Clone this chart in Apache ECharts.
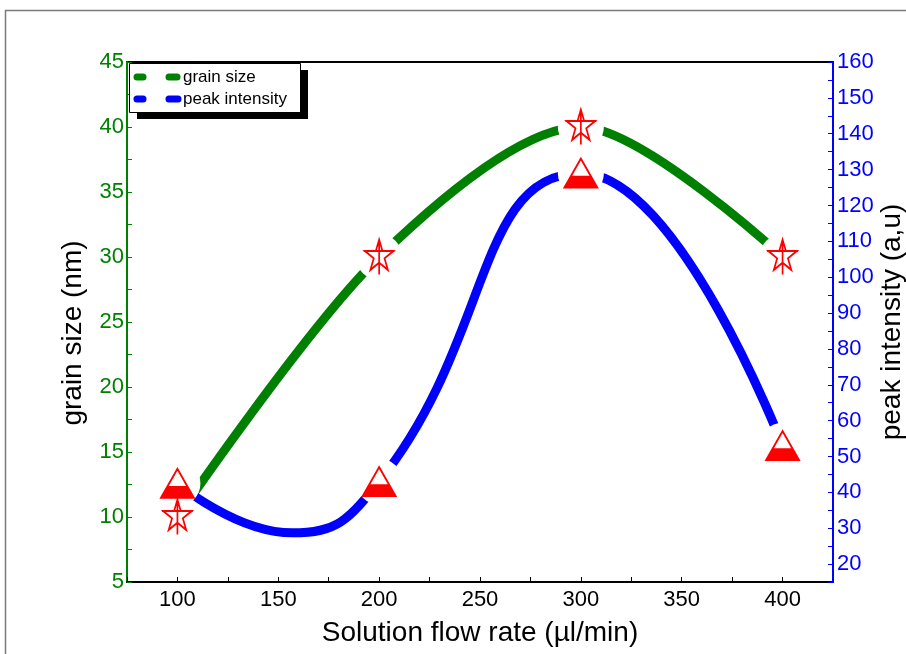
<!DOCTYPE html>
<html>
<head>
<meta charset="utf-8">
<script src="https://cdn.jsdelivr.net/npm/echarts/dist/echarts.min.js"></script>
<style>
  html, body { margin: 0; padding: 0; background: #fff; }
  #chart { width: 906px; height: 654px; }
</style>
</head>
<body>
<div id="chart"></div>
<script>
const flowRate = [100, 200, 300, 400];
const grainSize = [10, 30, 40, 30];
const peakIntensity = [42.5, 43, 129, 53];

// the drawn spline of peak intensity (it dips between 100 and 200)
const peakCurveRate = [100, 157, 200, 300, 400];
const peakCurveValue = [42.5, 28.7, 43, 129, 53];

const FONT = '"Liberation Sans", Arial, sans-serif';
const GREEN = '#008000';
const BLUE = '#0000ff';
const RED = '#ff0000';

// symbol outlines in a 100x100 box
const starPts = [[50, 0], [60.76, 33.19], [95.65, 33.17], [67.4, 53.66], [78.21, 86.83],
  [50, 66.3], [21.79, 86.83], [32.6, 53.66], [4.35, 33.17], [39.24, 33.19]];
const triPts = [[50, 0], [100, 100], [0, 100]];
const triHole = [[50, 0], [19, 62], [81, 62]];
const triFill = [[19, 62], [81, 62], [100, 100], [0, 100]];

const toPath = (pts) => 'M' + pts.map((p) => p.join(' ')).join('L') + 'Z';
// star with a cross through it; triangle whose upper part is a hole (half filled)
const STAR = 'path://' + toPath(starPts) + 'M50 0L50 100M0 33L100 33';
const TRI = 'path://' + toPath(triPts) + toPath(triHole);

const pairs = (xs, ys) => xs.map((x, i) => [x, ys[i]]);

var chart = echarts.init(document.getElementById('chart'));

function legendIcon(x, y, w, h, children) {
  return { type: 'group', x: x, y: y, scaleX: w / 100, scaleY: h / 100, z: 104, silent: true, children: children };
}

const option = {
  animation: false,
  backgroundColor: '#fff',
  grid: {
    left: 127, right: 73, top: 62, bottom: 72,
    outerBoundsMode: 'none',
    show: true, borderColor: '#000', borderWidth: 2
  },
  xAxis: {
    type: 'value',
    min: 75, max: 425, interval: 25,
    axisLine: { show: true, lineStyle: { color: '#000', width: 2 } },
    axisTick: { show: true, inside: true, length: 5, lineStyle: { color: '#000', width: 1 } },
    axisLabel: {
      color: '#000', fontSize: 22, fontFamily: FONT, margin: 7,
      showMinLabel: true, showMaxLabel: true,
      formatter: (v) => (v % 50 === 0 ? String(v) : '')
    },
    splitLine: { show: false },
    name: 'Solution flow rate (µl/min)',
    nameLocation: 'middle',
    nameGap: 37,
    nameMoveOverlap: false,
    nameTextStyle: { color: '#000', fontSize: 28, fontFamily: FONT, verticalAlign: 'top' }
  },
  yAxis: [
    {
      type: 'value',
      min: 5, max: 45, interval: 2.5,
      axisLine: { show: true, lineStyle: { color: GREEN, width: 2 } },
      axisTick: { show: true, inside: true, length: 5, lineStyle: { color: GREEN, width: 1 } },
      axisLabel: {
        color: GREEN, fontSize: 22, fontFamily: FONT, margin: 3,
        showMinLabel: true, showMaxLabel: true,
        formatter: (v) => (v % 5 === 0 ? String(v) : '')
      },
      splitLine: { show: false },
      name: 'grain size (nm)',
      nameLocation: 'middle',
      nameRotate: 90,
      nameGap: 40,
      nameMoveOverlap: false,
      nameTextStyle: { color: '#000', fontSize: 28, fontFamily: FONT, padding: [0, 0, 0, -22] }
    },
    {
      type: 'value',
      position: 'right',
      min: 15, max: 160, interval: 5,
      axisLine: { show: true, lineStyle: { color: BLUE, width: 2 } },
      axisTick: { show: true, inside: true, length: 5, lineStyle: { color: BLUE, width: 1 } },
      axisLabel: {
        color: BLUE, fontSize: 22, fontFamily: FONT, margin: 4,
        showMinLabel: true, showMaxLabel: true,
        formatter: (v) => (v % 10 === 0 ? String(v) : '')
      },
      splitLine: { show: false },
      name: 'peak intensity (a,u)',
      nameLocation: 'middle',
      nameRotate: 90,
      nameGap: 45,
      nameMoveOverlap: false,
      nameTextStyle: { color: '#000', fontSize: 28, fontFamily: FONT }
    }
  ],
  series: [
    {
      type: 'line', name: 'grain size', yAxisIndex: 0,
      data: pairs(flowRate, grainSize), smooth: 0.3, showSymbol: false, silent: true, z: 2,
      lineStyle: { color: GREEN, width: 9, cap: 'round' }
    },
    {
      type: 'line', name: 'peak intensity', yAxisIndex: 1,
      data: pairs(peakCurveRate, peakCurveValue), smooth: 0.5, showSymbol: false, silent: true, z: 2,
      lineStyle: { color: BLUE, width: 9, cap: 'round' }
    },
    // white discs that leave the gap between curve and symbol
    {
      type: 'scatter', yAxisIndex: 0, data: pairs(flowRate, grainSize), silent: true, z: 3,
      symbol: 'circle', symbolSize: 46, itemStyle: { color: '#fff', opacity: 1 }
    },
    {
      type: 'scatter', yAxisIndex: 1, data: pairs(flowRate, peakIntensity), silent: true, z: 3,
      symbol: 'circle', symbolSize: 46, itemStyle: { color: '#fff', opacity: 1 }
    },
    {
      type: 'scatter', yAxisIndex: 0, data: pairs(flowRate, grainSize), silent: true, z: 4,
      symbol: STAR, symbolSize: [31, 35],
      itemStyle: { color: '#fff', borderColor: RED, borderWidth: 1.8, opacity: 1 }
    },
    {
      type: 'scatter', yAxisIndex: 1, data: pairs(flowRate, peakIntensity), silent: true, z: 4,
      symbol: TRI, symbolSize: [33, 29],
      itemStyle: { color: RED, borderColor: RED, borderWidth: 1.8, opacity: 1 }
    }
  ],
  graphic: [
    // outer frame
    { type: 'rect', z: 0, silent: true, shape: { x: 5.5, y: 10.5, width: 1000, height: 1000 },
      style: { fill: 'none', stroke: '#7a7a7a', lineWidth: 1.5 } },
    // legend box with shadow
    { type: 'rect', z: 100, silent: true, shape: { x: 137, y: 70, width: 171, height: 49 }, style: { fill: '#000' } },
    { type: 'rect', z: 101, silent: true, shape: { x: 129.5, y: 63.5, width: 171, height: 49 },
      style: { fill: '#fff', stroke: '#000', lineWidth: 1 } },
    { type: 'line', z: 102, silent: true, shape: { x1: 137, y1: 77, x2: 143, y2: 77 },
      style: { stroke: GREEN, lineWidth: 7, lineCap: 'round' } },
    { type: 'line', z: 102, silent: true, shape: { x1: 169, y1: 77, x2: 177, y2: 77 },
      style: { stroke: GREEN, lineWidth: 7, lineCap: 'round' } },
    { type: 'line', z: 102, silent: true, shape: { x1: 137, y1: 99, x2: 143, y2: 99 },
      style: { stroke: BLUE, lineWidth: 7, lineCap: 'round' } },
    { type: 'line', z: 102, silent: true, shape: { x1: 169, y1: 99, x2: 178, y2: 99 },
      style: { stroke: BLUE, lineWidth: 7, lineCap: 'round' } },
    legendIcon(145, 82, 18, 23, [
      { type: 'polygon', shape: { points: triFill }, style: { fill: RED } },
      { type: 'polygon', shape: { points: triPts }, style: { fill: 'none', stroke: RED, lineWidth: 1.4, strokeNoScale: true } }
    ]),
    legendIcon(146, 65, 15, 22, [
      { type: 'polygon', shape: { points: starPts }, style: { fill: 'none', stroke: RED, lineWidth: 1.4, strokeNoScale: true } },
      { type: 'line', shape: { x1: 50, y1: 0, x2: 50, y2: 100 }, style: { stroke: RED, lineWidth: 1.4, strokeNoScale: true } },
      { type: 'line', shape: { x1: 0, y1: 33, x2: 100, y2: 33 }, style: { stroke: RED, lineWidth: 1.4, strokeNoScale: true } }
    ]),
    { type: 'text', z: 104, silent: true, x: 183, y: 77,
      style: { text: 'grain size', fill: '#000', font: '17px ' + FONT, verticalAlign: 'middle' } },
    { type: 'text', z: 104, silent: true, x: 183, y: 99,
      style: { text: 'peak intensity', fill: '#000', font: '17px ' + FONT, verticalAlign: 'middle' } }
  ]
};

option && chart.setOption(option);
</script>
</body>
</html>
